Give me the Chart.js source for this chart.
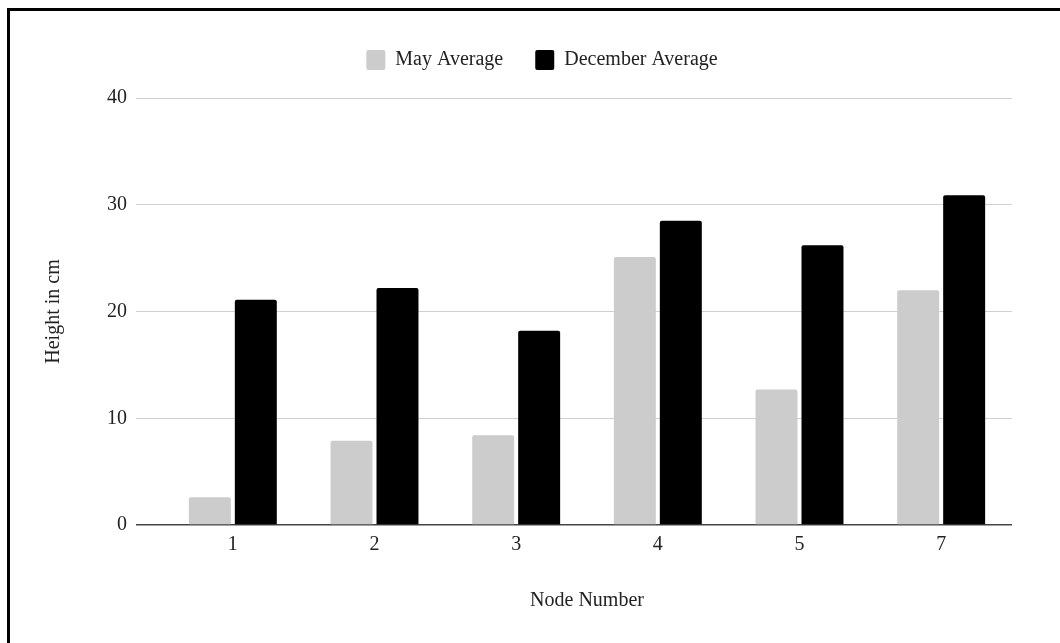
<!DOCTYPE html>
<html>
<head>
<meta charset="utf-8">
<script src="https://cdn.jsdelivr.net/npm/chart.js@4.4.1/dist/chart.umd.min.js"></script>
<style>
  html, body { margin: 0; padding: 0; background: #fff; overflow: hidden; }
  #wrap { position: relative; width: 1060px; height: 643px; }
  #frame {
    position: absolute; left: 7px; top: 8px; width: 1100px; height: 700px;
    border-top: 3px solid #000; border-left: 3px solid #000; pointer-events: none;
  }
  canvas { position: absolute; left: 0; top: 0; }
</style>
</head>
<body>
<div id="wrap">
  <canvas id="grafico" width="1060" height="643"></canvas>
  <div id="frame"></div>
</div>
<script>
const nodes = ['1', '2', '3', '4', '5', '7'];
const mayAverage = [2.6, 7.9, 8.4, 25.1, 12.7, 22.0];
const decemberAverage = [21.1, 22.2, 18.2, 28.5, 26.2, 30.9];
const yTicks = [0, 10, 20, 30, 40];

const serif = "'Liberation Serif', 'Times New Roman', serif";

// legend height + horizontal nudge so it sits like the original
const legendFix = {
  id: 'legendFix',
  beforeInit(chart) {
    const fit = chart.legend.fit;
    chart.legend.fit = function () {
      fit.bind(chart.legend)();
      this.height = 80;
    };
  },
  afterLayout(chart) {
    chart.legend.left += 15;
    chart.legend.right += 15;
  }
};

const ctx = document.getElementById('grafico').getContext('2d');

new Chart(ctx, {
  type: 'bar',
  data: {
    labels: nodes,
    datasets: [
      {
        label: 'May Average',
        data: mayAverage,
        backgroundColor: '#cccccc',
        borderRadius: 2,
        borderSkipped: 'bottom',
        categoryPercentage: 0.649,
        barPercentage: 0.913
      },
      {
        label: 'December Average',
        data: decemberAverage,
        backgroundColor: '#000000',
        borderRadius: 2,
        borderSkipped: 'bottom',
        categoryPercentage: 0.649,
        barPercentage: 0.913
      }
    ]
  },
  options: {
    responsive: false,
    animation: false,
    layout: {
      padding: { left: 42, right: 48, top: 18, bottom: 30 }
    },
    plugins: {
      tooltip: { enabled: false },
      legend: {
        position: 'top',
        align: 'center',
        labels: {
          font: { family: serif, size: 20 },
          color: '#222',
          boxWidth: 19,
          boxHeight: 20,
          padding: 32,
          useBorderRadius: true,
          borderRadius: 2
        }
      }
    },
    scales: {
      x: {
        grid: { display: false, drawTicks: false },
        border: { display: false },
        ticks: {
          font: { family: serif, size: 20 },
          color: '#222',
          padding: 8
        },
        title: {
          display: true,
          text: 'Node Number',
          font: { family: serif, size: 20 },
          color: '#222',
          padding: { top: 24, bottom: 0 }
        }
      },
      y: {
        min: yTicks[0],
        max: yTicks[yTicks.length - 1],
        afterBuildTicks: axis => { axis.ticks = yTicks.map(v => ({ value: v })); },
        grid: {
          color: c => c.tick && c.tick.value === 0 ? '#444' : '#d0d0d0',
          tickColor: c => c.tick && c.tick.value === 0 ? '#444' : '#d0d0d0',
          lineWidth: c => c.tick && c.tick.value === 0 ? 1.5 : 1,
          tickLength: 26
        },
        border: { display: false },
        ticks: {
          font: { family: serif, size: 20 },
          color: '#222',
          padding: 9
        },
        title: {
          display: true,
          text: 'Height in cm',
          font: { family: serif, size: 20 },
          color: '#222',
          padding: { top: 0, bottom: 32 }
        }
      }
    }
  },
  plugins: [legendFix]
});
</script>
</body>
</html>
